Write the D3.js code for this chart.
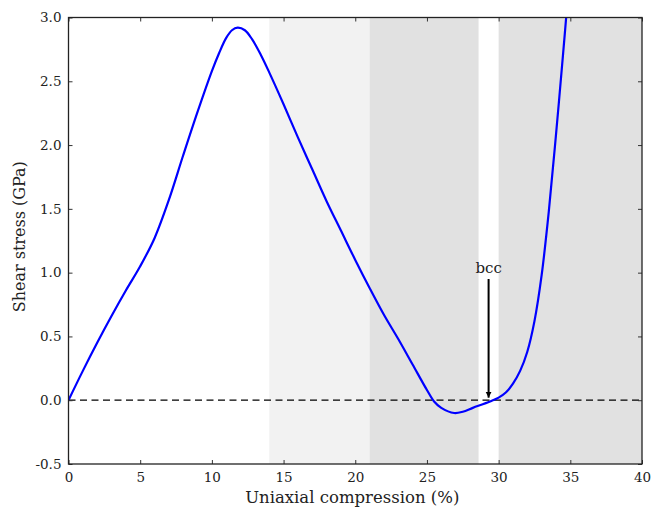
<!DOCTYPE html>
<html>
<head>
<meta charset="utf-8">
<style>
  body { margin: 0; background: #fff; }
  svg text { font-family: "DejaVu Serif", "Liberation Serif", serif; fill: #222; }
  .axis path { display: none; }
  .axis line { stroke: #333; }
</style>
</head>
<body>
<script src="https://cdn.jsdelivr.net/npm/d3@7"></script>
<script>
// compression (%) and shear stress (GPa)
const strain = [0, 1, 2, 3, 4, 5, 6, 7, 8, 9, 10, 10.5, 11, 11.4, 11.8, 12.3, 12.8, 13.4, 14, 15, 16,
                17, 18, 19, 20, 21, 22, 23, 24, 25, 25.5, 26, 26.9, 27.5, 28.2, 29.4, 30, 30.5, 31,
                31.5, 32, 32.5, 33, 33.5, 34, 34.5, 34.8];
const stress = [0, 0.23, 0.45, 0.66, 0.86, 1.05, 1.27, 1.57, 1.92, 2.26, 2.58, 2.72, 2.84, 2.90, 2.92,
                2.90, 2.83, 2.71, 2.57, 2.32, 2.06, 1.81, 1.56, 1.33, 1.10, 0.88, 0.67, 0.48, 0.28,
                0.08, -0.01, -0.06, -0.10, -0.09, -0.06, -0.01, 0.02, 0.06, 0.13, 0.23, 0.38, 0.62,
                0.98, 1.48, 2.08, 2.72, 3.12];

// shaded bands [from, to, colour]
const bandStart = [14, 21, 30];
const bandEnd = [21, 28.6, 40];
const bandFill = ["#f2f2f2", "#e1e1e1", "#e1e1e1"];

const xTicks = [0, 5, 10, 15, 20, 25, 30, 35, 40];
const yTicks = [-0.5, 0, 0.5, 1, 1.5, 2, 2.5, 3];

const arrowX = 29.3, arrowTop = 0.95, arrowTip = 0.02;

const W = 651, H = 507;
const m = { top: 17.5, right: 9, bottom: 43, left: 68.5 };
const w = W - m.left - m.right, h = H - m.top - m.bottom;

const svg = d3.select("body").append("svg").attr("width", W).attr("height", H);
const g = svg.append("g").attr("transform", `translate(${m.left},${m.top})`);

const x = d3.scaleLinear().domain([0, 40]).range([0, w]);
const y = d3.scaleLinear().domain([-0.5, 3]).range([h, 0]);

const defs = svg.append("defs");
defs.append("clipPath").attr("id", "clip")
  .append("rect").attr("width", w).attr("height", h);

g.selectAll("rect.band").data(bandStart).join("rect")
  .attr("class", "band")
  .attr("x", d => x(d))
  .attr("width", (d, i) => x(bandEnd[i]) - x(d))
  .attr("y", 0).attr("height", h)
  .attr("fill", (d, i) => bandFill[i]);

g.append("line")
  .attr("x1", 0).attr("x2", w).attr("y1", y(0)).attr("y2", y(0))
  .attr("stroke", "#000").attr("stroke-width", 1.3).attr("stroke-dasharray", "7,4.5");

const line = d3.line().x(d => x(d[0])).y(d => y(d[1])).curve(d3.curveCatmullRom);
g.append("path")
  .datum(d3.zip(strain, stress))
  .attr("clip-path", "url(#clip)")
  .attr("fill", "none").attr("stroke", "#0000ff").attr("stroke-width", 2.2)
  .attr("d", line);

// arrow + label
defs.append("marker").attr("id", "head")
  .attr("viewBox", "0 0 10 10").attr("refX", 10).attr("refY", 5)
  .attr("markerWidth", 6).attr("markerHeight", 8).attr("orient", "auto")
  .attr("markerUnits", "userSpaceOnUse")
  .append("path").attr("d", "M0,0L10,5L0,10z").attr("fill", "#000");
g.append("line")
  .attr("x1", x(arrowX)).attr("x2", x(arrowX))
  .attr("y1", y(arrowTop)).attr("y2", y(arrowTip))
  .attr("stroke", "#000").attr("stroke-width", 2)
  .attr("marker-end", "url(#head)");
g.append("text").attr("x", x(arrowX)).attr("y", y(arrowTop) - 6)
  .attr("text-anchor", "middle").attr("font-size", 15).text("bcc");

// axes with inward ticks on all four sides
const fs = 13.5;
const yFmt = d => d3.format(".1f")(d).replace("\u2212", "-");
g.append("g").attr("class", "axis").attr("transform", `translate(0,${h})`)
  .call(d3.axisBottom(x).tickValues(xTicks).tickSize(-4).tickPadding(8).tickFormat(d3.format("d")))
  .selectAll("text").attr("font-size", fs);
g.append("g").attr("class", "axis")
  .call(d3.axisTop(x).tickValues(xTicks).tickSize(-4).tickFormat(""));
g.append("g").attr("class", "axis")
  .call(d3.axisLeft(y).tickValues(yTicks).tickSize(-4).tickPadding(7).tickFormat(yFmt))
  .selectAll("text").attr("font-size", fs);
g.append("g").attr("class", "axis").attr("transform", `translate(${w},0)`)
  .call(d3.axisRight(y).tickValues(yTicks).tickSize(-4).tickFormat(""));

g.append("rect").attr("width", w).attr("height", h)
  .attr("fill", "none").attr("stroke", "#222").attr("stroke-width", 1.3);

svg.append("text").attr("x", m.left + w / 2 - 3).attr("y", H - 4)
  .attr("text-anchor", "middle").attr("font-size", 16.5).text("Uniaxial compression (%)");
svg.append("text")
  .attr("transform", `translate(25,${m.top + h / 2 - 4}) rotate(-90)`)
  .attr("text-anchor", "middle").attr("font-size", 16).text("Shear stress (GPa)");
</script>
</body>
</html>
